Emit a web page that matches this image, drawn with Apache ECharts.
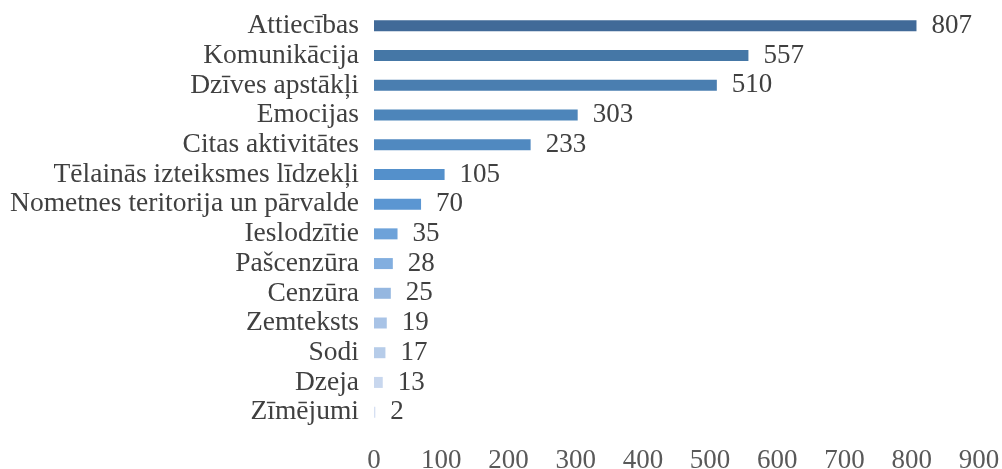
<!DOCTYPE html>
<html>
<head>
<meta charset="utf-8">
<script src="https://cdn.jsdelivr.net/npm/echarts@6/dist/echarts.min.js"></script>
<style>
  html, body { margin: 0; padding: 0; background: #fff; }
  #chart { width: 1002px; height: 469px; }
</style>
</head>
<body>
<div id="chart"></div>
<script>
const categories = [
  'Attiecības', 'Komunikācija', 'Dzīves apstākļi', 'Emocijas', 'Citas aktivitātes',
  'Tēlainās izteiksmes līdzekļi', 'Nometnes teritorija un pārvalde', 'Ieslodzītie',
  'Pašcenzūra', 'Cenzūra', 'Zemteksts', 'Sodi', 'Dzeja', 'Zīmējumi'
];
const counts = [807, 557, 510, 303, 233, 105, 70, 35, 28, 25, 19, 17, 13, 2];
const barColors = [
  '#416a98', '#4577a6', '#4a7eb0', '#4d85ba', '#5089c0', '#5490cb', '#5b96d2',
  '#6da2d9', '#82aedf', '#95b7e0', '#a8c3e6', '#b6cce9', '#c8d7ee', '#d6e0f2'
];

const chart = echarts.init(document.getElementById('chart'));
const serif = '"Liberation Serif", "Times New Roman", serif';

chart.setOption({
  animation: false,
  grid: { left: 374, right: 23, top: 11, height: 416, outerBoundsMode: 'none' },
  xAxis: {
    type: 'value',
    min: 0,
    max: 900,
    interval: 100,
    splitLine: { show: false },
    axisLine: { show: false },
    axisTick: { show: false },
    axisLabel: { fontFamily: serif, fontSize: 27, color: '#595959', margin: 20 }
  },
  yAxis: {
    type: 'category',
    inverse: true,
    data: categories,
    axisLine: { show: false },
    axisTick: { show: false },
    axisLabel: { interval: 0, fontFamily: serif, fontSize: 27.5, color: '#404040', margin: 15 }
  },
  series: [{
    type: 'bar',
    barWidth: 11,
    data: counts.map((v, i) => ({ value: v, itemStyle: { color: barColors[i] } })),
    label: {
      show: true,
      position: 'right',
      distance: 15,
      fontFamily: serif,
      fontSize: 27,
      color: '#404040'
    }
  }]
});
</script>
</body>
</html>
